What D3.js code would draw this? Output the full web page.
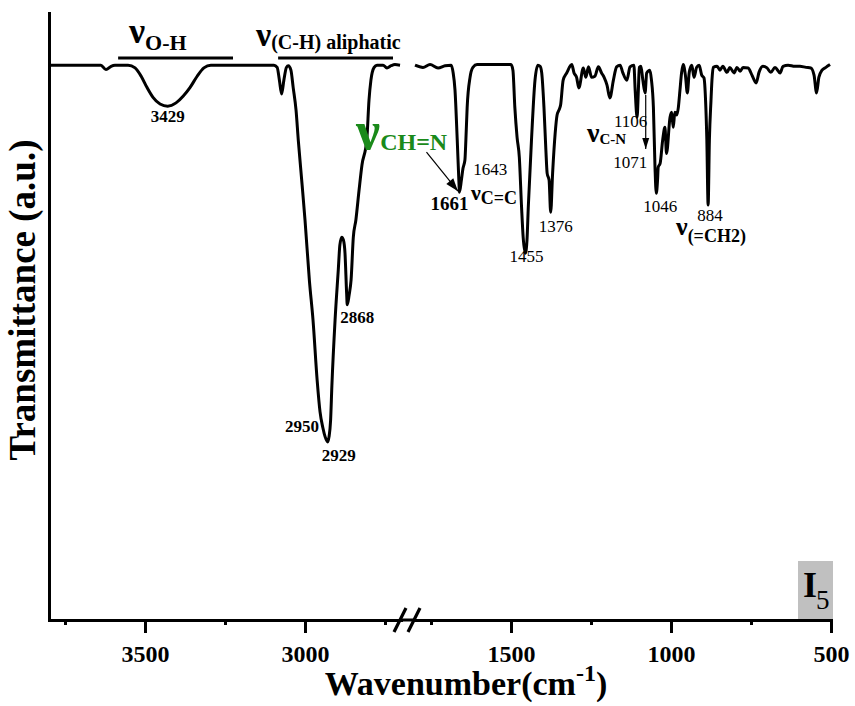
<!DOCTYPE html>
<html><head><meta charset="utf-8">
<script src="https://cdn.jsdelivr.net/npm/d3@7"></script>
<style>
body{margin:0;background:#fff}
svg{display:block}
text{font-family:"Liberation Serif","Times New Roman",serif;fill:#000}
</style>
</head><body>
<svg id="c" width="855" height="706"></svg>
<script>
// ---- data: [wavenumber (cm-1), transmittance (a.u.)] ----
const leftSpectrum = [
 [3800,100],[3656,100],[3638,100],[3622,99.2],[3606,99.8],[3594,100],
 [3553,100],[3531,99.5],[3512,98.0],[3494,96.0],[3475,94.2],[3453,93.0],[3429,92.6],
 [3403,93.2],[3381,94.4],[3359,96.0],[3337,98.0],[3316,99.5],[3294,100],
 [3097,100],[3087,99.6],[3080,97.3],[3073,94.8],[3066,97.3],[3058,99.6],[3052,99.9],
 [3044,99.1],[3037,96.0],[3028,91.9],[3021,86.5],[3009,78.4],[3000,72.1],[2986,61],
 [2975,54.1],[2962,43.2],[2953,37.5],[2944,34.6],[2937,33.0],[2929,32.1],[2925,33.0],
 [2920,36.0],[2916,42.2],[2906,54.1],[2896,63.1],[2891,67.6],[2885,69.0],[2880,68.5],
 [2875,66.1],[2870,59],[2868,56.8],[2862,58.6],[2856,61.3],[2849,69.0],[2841,72.1],
 [2831,77.5],[2822,82.0],[2807,86.5],[2800,93.7],[2794,97.3],[2784,99.6],[2775,100],
 [2756,100],[2744,99.5],[2731,99.9],[2719,100.1],[2703,100]
];
const rightSpectrum = [
 [1800,100],[1775,99.6],[1753,100.1],[1728,99.5],[1706,99.9],[1687,100],[1681,98.7],
 [1675,95.5],[1668,86.5],[1663,79.3],[1661,77.1],[1655,79.3],[1650,81.4],[1644,82.9],
 [1641,86.5],[1637,92.4],[1628,97.8],[1619,99.6],[1606,100.1],[1500,100.1],[1494,99.1],
 [1488,92.4],[1481,87.0],[1474,83.4],[1467,74.4],[1462,69.0],[1455,66.1],[1450,68.5],
 [1446,74.4],[1436,86.5],[1425,97.3],[1416,100],[1409,99.8],[1404,98.6],[1397,92.4],
 [1391,84.7],[1387,80.5],[1381,79.3],[1376,73.5],[1370,80.5],[1362,87.7],[1356,91.0],
 [1350,91.9],[1345,92.8],[1337,97.3],[1326,98.6],[1310,100.1],[1303,98.6],[1295,97.8],
 [1288,95.9],[1274,99.5],[1266,97.8],[1258,99.7],[1248,97.8],[1238,98.0],[1227,99.7],
 [1217,98.6],[1209,97.8],[1200,96.4],[1191,94.1],[1180,97.3],[1170,99.7],[1159,100],
 [1151,98.7],[1138,97.3],[1128,99.7],[1116,100],[1112,95.5],[1106,90.6],[1102,95.5],
 [1099,99.6],[1094,99.8],[1088,97.3],[1081,95.0],[1076,98.6],[1066,99.1],[1061,97.3],
 [1055,92.4],[1050,81.6],[1046,76.9],[1042,79.3],[1040,81.6],[1034,82.3],[1026,86.5],
 [1019,88.8],[1014,84.1],[1003,90.6],[998,91.5],[993,88.8],[988,91.5],[982,91.0],
 [977,92.4],[972,95.5],[967,98.6],[962,100.1],[955,98.2],[949,95.0],[943,98.7],[935,100],
 [928,97.8],[920,99.6],[912,100],[904,98.2],[897,97.7],[892,93.7],[888,86.5],[884,74.8],
 [880,86.5],[875,93.7],[872,97.3],[868,99.6],[856,99.8],[847,99.1],[838,99.8],[825,98.7],
 [816,99.6],[803,98.6],[794,99.6],[784,98.9],[775,99.6],[759,99.5],[747,98.2],[734,96.8],
 [725,98.7],[713,99.8],[700,99.5],[688,98.7],[675,99.6],[659,98.6],[650,99.8],[634,100],
 [613,99.8],[597,99.8],[578,99.6],[563,99.5],[553,98.2],[545,95.0],[538,97.8],[528,99.1],
 [516,99.6],[503,100.1]
];
const leftMajorTicks = [3500, 3000];
const rightMajorTicks = [1500, 1000, 500];
const leftMinorTicks = [3750, 3250, 2750];
const rightMinorTicks = [1750, 1250, 750];
const leftDomain = [3800, 2700];
const rightDomain = [1800, 500];
const yDomain = [0, 109.4];

// ---- drawing ----
const svg = d3.select('#c');
const xL = d3.scaleLinear().domain(leftDomain).range([49, 401]);
const xR = d3.scaleLinear().domain(rightDomain).range([415, 831]);
const y = d3.scaleLinear().domain(yDomain).range([620, 13]);
const AX = 620;

// sample label box
svg.append('rect').attr('x', 798).attr('y', 561).attr('width', 35).attr('height', AX - 561).attr('fill', '#c0c0c0');
svg.append('text').attr('x', 803).attr('y', 597).attr('font-size', 36).attr('font-weight', 'bold').text('I');
svg.append('text').attr('x', 816).attr('y', 609).attr('font-size', 27).text('5');

// spectrum
const mk = xs => d3.line().x(d => xs(d[0])).y(d => y(d[1])).curve(d3.curveMonotoneX);
[[leftSpectrum, xL], [rightSpectrum, xR]].forEach(([d, s]) => {
  svg.append('path').datum(d).attr('d', mk(s)).attr('fill', 'none')
    .attr('stroke', '#000').attr('stroke-width', 3).attr('stroke-linejoin', 'round');
});

// axes
function axisStyle(g) {
  g.selectAll('.domain').attr('stroke-width', 3).attr('stroke-linecap', 'square');
  g.selectAll('.tick line').attr('stroke-width', 3);
  g.selectAll('text').attr('font-size', 24).attr('font-weight', 'bold')
    .attr('font-family', '"Liberation Serif", serif').attr('fill', '#000');
}
[[xL, leftMajorTicks, leftMinorTicks], [xR, rightMajorTicks, rightMinorTicks]].forEach(([s, maj, min]) => {
  svg.append('g').attr('transform', `translate(0,${AX})`)
    .call(d3.axisBottom(s).tickValues(min).tickSize(5).tickSizeOuter(0).tickFormat(''))
    .call(axisStyle);
  svg.append('g').attr('transform', `translate(0,${AX})`)
    .call(d3.axisBottom(s).tickValues(maj).tickSize(13).tickSizeOuter(0).tickPadding(12).tickFormat(d3.format('d')))
    .call(axisStyle);
});
svg.append('line').attr('x1', xL.range()[1]).attr('x2', xR.range()[0]).attr('y1', AX).attr('y2', AX)
  .attr('stroke', '#000').attr('stroke-width', 3);
const bx = (xL.range()[1] + xR.range()[0]) / 2;
[-8, 6].forEach(o => {
  svg.append('line').attr('x1', bx + o - 6).attr('y1', AX + 12).attr('x2', bx + o + 6).attr('y2', AX - 12)
    .attr('stroke', '#000').attr('stroke-width', 3.2);
});
svg.append('g').attr('transform', 'translate(49,0)')
  .call(d3.axisLeft(y).tickValues([]).tickSizeOuter(0)).call(axisStyle);

// axis titles
svg.append('text').attr('transform', 'translate(35,300) rotate(-90)').attr('text-anchor', 'middle')
  .attr('font-size', 37).attr('font-weight', 'bold').text('Transmittance (a.u.)');
const xt = svg.append('text').attr('x', 466).attr('y', 695).attr('text-anchor', 'middle')
  .attr('font-size', 34).attr('font-weight', 'bold');
xt.append('tspan').text('Wavenumber(cm');
xt.append('tspan').attr('dy', -14).attr('font-size', 24).text('-1');
xt.append('tspan').attr('dy', 14).text(')');

// ν labels with subscripts
function nuLabel(x, yb, nuSize, sub, subSize, subDy, color) {
  const c = color || '#000';
  const t = svg.append('text').attr('x', x).attr('y', yb).attr('fill', c);
  t.append('tspan').attr('font-size', nuSize).attr('font-weight', 'bold').attr('fill', c).text('ν');
  t.append('tspan').attr('font-size', subSize).attr('font-weight', 'bold').attr('dy', subDy)
    .attr('fill', c).text(sub);
}
nuLabel(129, 43, 36, 'O-H', 22, 7);
nuLabel(256, 46, 34, '(C-H) aliphatic', 20, 3);
nuLabel(356, 149, 54, 'CH=N', 24, 1, '#1a8a1a');
nuLabel(471, 200, 22, 'C=C', 18, 4);
nuLabel(587, 142, 28, 'C-N', 15, 2);
nuLabel(676, 235, 26, '(=CH2)', 18, 7);

// group bars
function bar(w1, w2, s) {
  svg.append('line').attr('x1', s(w1)).attr('x2', s(w2)).attr('y1', 58).attr('y2', 58)
    .attr('stroke', '#000').attr('stroke-width', 3);
}
bar(3584, 3225, xL);
bar(3084, 2725, xL);

// peak number labels
function num(txt, x, yb, size, bold, anchor) {
  svg.append('text').attr('x', x).attr('y', yb).attr('font-size', size)
    .attr('font-weight', bold ? 'bold' : 'normal').attr('text-anchor', anchor || 'middle').text(txt);
}
num('3429', xL(3429), 122, 17, true);
num('2950', xL(2950) - 2, 432, 17, true, 'end');
num('2929', xL(2929) - 6, 461, 17, true, 'start');
num('2868', xL(2868) - 7, 323, 17, true, 'start');
num('1661', xR(1661) + 9, 210, 19, true, 'end');
num('1643', xR(1643) + 8, 175, 17, false, 'start');
num('1455', xR(1455) + 1, 262, 17, false);
num('1376', xR(1376) + 5, 232, 17, false);
num('1106', 614, 127, 17, false, 'start');
num('1071', xR(1071) - 1, 168, 17, false, 'end');
num('1046', xR(1046) + 4, 212, 17, false);
num('884', xR(884) + 2, 221, 17, false);

// arrows
function arrow(x1, y1, x2, y2, hl, hw, sw) {
  svg.append('line').attr('x1', x1).attr('y1', y1).attr('x2', x2).attr('y2', y2)
    .attr('stroke', '#000').attr('stroke-width', sw);
  const a = Math.atan2(y2 - y1, x2 - x1);
  const bx = x2 - hl * Math.cos(a), by = y2 - hl * Math.sin(a);
  const px = -Math.sin(a) * hw / 2, py = Math.cos(a) * hw / 2;
  svg.append('path').attr('d', `M${x2},${y2}L${bx + px},${by + py}L${bx - px},${by - py}Z`).attr('fill', '#000');
}
arrow(xR(1661) - 33, y(77.1) - 40, xR(1661) - 1.5, y(77.1) - 1, 13, 9, 1.2);
arrow(xR(1079), 95, xR(1079), 149, 11, 7, 1.2);
</script>
</body></html>
